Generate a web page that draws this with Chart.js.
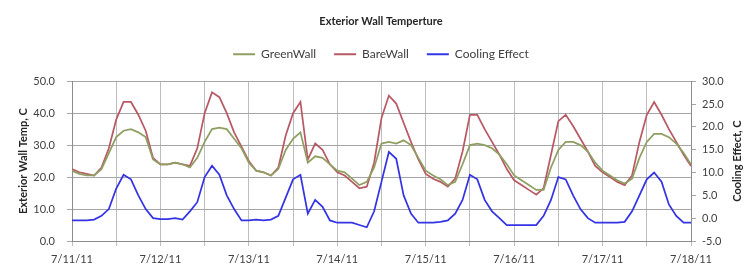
<!DOCTYPE html>
<html>
<head>
<meta charset="utf-8">
<script src="https://cdn.jsdelivr.net/npm/chart.js@4/dist/chart.umd.min.js"></script>
<style>
  html, body { margin: 0; padding: 0; background: #fff; }
  #wrap { width: 745px; height: 268px; }
</style>
</head>
<body>
<div id="wrap"><canvas id="chart" width="745" height="268"></canvas></div>
<script>
//! Data (one reading every 2 hours, 7/11/11 00:00 -> 7/18/11 00:00)

const STEP_HOURS = 2;
const dayLabels = ["7/11/11", "7/12/11", "7/13/11", "7/14/11", "7/15/11", "7/16/11", "7/17/11", "7/18/11"];

const greenWall = [
  22, 21, 20.5, 20.5, 22.5, 27.5, 32.5, 34.5, 35, 34, 32.5, 25.5,
  24, 24, 24.5, 24, 23, 26, 31, 35, 35.5, 35, 32, 29,
  24.5, 22, 21.5, 20.5, 22.5, 28.5, 32, 34, 24.5, 26.5, 26, 24,
  22, 21.5, 19.5, 17.5, 18.5, 23, 30.5, 31, 30.5, 31.5, 30, 26,
  22, 20.5, 19.3, 17.5, 18.5, 24, 30, 30.5, 30, 29, 27, 24,
  20.5, 19, 17.5, 16, 16, 23, 28.5, 31, 31, 30, 28, 24.5,
  22, 20.5, 19, 18, 19.5, 26, 31, 33.5, 33.5, 32.5, 30.5, 27.5,
  24
];

const bareWall = [
  22.5, 21.5, 21, 20.5, 23, 29, 38, 43.5, 43.5, 39.5, 34.5, 26,
  24, 24, 24.5, 24, 23.5, 29, 40, 46.5, 45, 40, 34, 29.5,
  25, 22, 21.5, 20.5, 23, 33, 40, 43.5, 25.5, 30.5, 28.5, 24,
  21.5, 20.5, 18.5, 16.5, 17, 24.5, 38.5, 45.5, 43, 37, 31, 25.5,
  21, 19.5, 18.5, 17, 19.5, 28, 39.5, 39.5, 35, 31, 27, 22.5,
  19, 17.5, 16, 14.5, 16.5, 27, 37.5, 39.5, 36, 32, 28, 23.5,
  21.5, 20, 18.5, 17.5, 20.5, 31, 39.5, 43.5, 39.5, 35, 31, 27,
  23.5
];

const coolingEffect = [
  -0.5, -0.5, -0.5, -0.3, 0.5, 2, 6.5, 9.5, 8.5, 5, 2, 0,
  -0.2, -0.2, 0, -0.3, 1.5, 3.5, 9, 11.5, 9.5, 5, 2, -0.5,
  -0.5, -0.3, -0.5, -0.3, 0.5, 4.5, 8.5, 9.5, 1, 4, 2.5, -0.5,
  -1, -1, -1, -1.5, -2, 1.5, 8, 14.5, 13, 5, 1, -1,
  -1, -1, -0.8, -0.5, 1, 4, 9.5, 8.5, 4, 1.5, 0, -1.5,
  -1.5, -1.5, -1.5, -1.5, 0.5, 4, 9, 8.5, 5, 2, 0, -1,
  -1, -1, -1, -0.8, 1.5, 5, 8.5, 10, 8, 3, 0.5, -1,
  -1
];

const toPoints = (values) => values.map((v, i) => ({ x: i * STEP_HOURS, y: v }));

//! Small helpers

const FONT = "Lato";

// legend needs more room under it than Chart.js gives by default
const legendGap = {
  id: "legendGap",
  beforeLayout(chart) {
    const legend = chart.legend;
    if (!legend || legend._gapPatched) return;
    const fit = legend.fit;
    legend.fit = function () {
      fit.call(this);
      this.height += 11;
    };
    legend._gapPatched = true;
  },
};

// secondary axis title reads bottom-to-top like the primary one
const rightTitle = {
  id: "rightTitle",
  afterDraw(chart) {
    const { ctx, chartArea } = chart;
    ctx.save();
    ctx.translate(chart.width - 8, (chartArea.top + chartArea.bottom) / 2);
    ctx.rotate(-Math.PI / 2);
    ctx.font = "bold 11px " + FONT;
    ctx.fillStyle = "#262626";
    ctx.textAlign = "center";
    ctx.textBaseline = "middle";
    ctx.fillText("Cooling Effect, C", 0, 0);
    ctx.restore();
  },
};

//! Chart JS

const chart = document.getElementById("chart");

new Chart(chart, {
  type: "line",
  data: {
    datasets: [
      {
        label: "GreenWall",
        data: toPoints(greenWall),
        borderColor: "#8f9f62",
        backgroundColor: "#8f9f62",
        borderWidth: 1.75,
        yAxisID: "y",
      },
      {
        label: "BareWall",
        data: toPoints(bareWall),
        borderColor: "#b85a66",
        backgroundColor: "#b85a66",
        borderWidth: 1.75,
        yAxisID: "y",
      },
      {
        label: "Cooling Effect",
        data: toPoints(coolingEffect),
        borderColor: "#3434e4",
        backgroundColor: "#3434e4",
        borderWidth: 1.75,
        yAxisID: "y2",
      },
    ],
  },
  options: {
    responsive: false,
    animation: false,
    devicePixelRatio: 1,
    elements: {
      point: { radius: 0 },
      line: { tension: 0 },
    },
    layout: {
      padding: { left: 17, right: 0, top: 0, bottom: 0 },
    },
    plugins: {
      title: {
        display: true,
        text: "Exterior Wall Temperture",
        color: "#262626",
        font: { family: FONT, size: 11, weight: "bold" },
        padding: { top: 15, bottom: 2 },
      },
      legend: {
        display: true,
        labels: {
          color: "#404040",
          font: { family: FONT, size: 12 },
          boxWidth: 22,
          boxHeight: 2,
          padding: 18,
          generateLabels(c) {
            return Chart.defaults.plugins.legend.labels
              .generateLabels(c)
              .map((item) => ({ ...item, lineWidth: 0 }));
          },
        },
      },
      tooltip: { enabled: false },
    },
    scales: {
      x: {
        type: "linear",
        min: 0,
        max: 168,
        afterFit(scale) {
          scale.height = 27;
        },
        ticks: {
          stepSize: 12,
          autoSkip: false,
          maxRotation: 0,
          padding: 7,
          color: "#404040",
          font: { family: FONT, size: 11 },
          callback: (v) => (v % 24 === 0 ? dayLabels[v / 24] : ""),
        },
        grid: {
          color: "#bdbdbd",
          tickLength: 5,
        },
        border: { color: "#8c8c8c" },
      },
      y: {
        position: "left",
        min: 0,
        max: 50,
        afterFit(scale) {
          scale.width = 55;
        },
        ticks: {
          stepSize: 10,
          padding: 12,
          color: "#404040",
          font: { family: FONT, size: 11 },
          callback: (v) => v.toFixed(1),
        },
        grid: {
          color: "#a6a6a6",
          tickLength: 5,
        },
        border: { color: "#8c8c8c" },
        title: {
          display: true,
          text: "Exterior Wall Temp, C",
          color: "#262626",
          font: { family: FONT, size: 11, weight: "bold" },
          padding: { top: 0, bottom: 0 },
        },
      },
      y2: {
        position: "right",
        min: -5,
        max: 30,
        afterFit(scale) {
          scale.width = 54;
        },
        ticks: {
          stepSize: 5,
          padding: 6,
          crossAlign: "near",
          color: "#404040",
          font: { family: FONT, size: 11 },
          callback: (v) => v.toFixed(1),
        },
        grid: {
          drawOnChartArea: false,
          color: "#a6a6a6",
          tickLength: 5,
        },
        border: { color: "#8c8c8c" },
      },
    },
  },
  plugins: [legendGap, rightTitle],
});
</script>
</body>
</html>
